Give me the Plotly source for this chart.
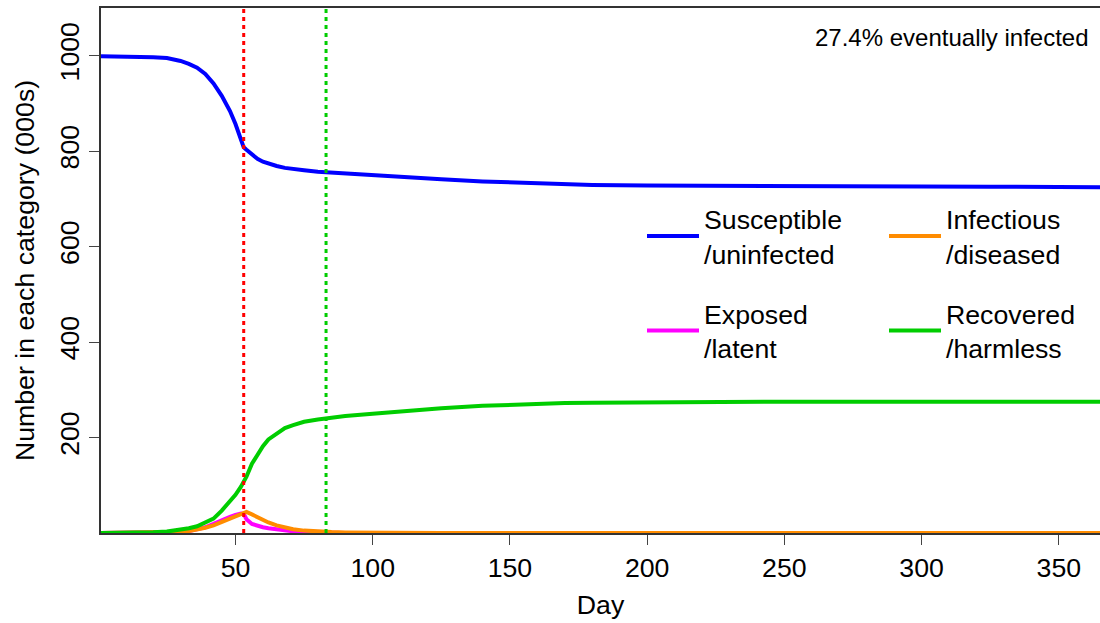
import plotly.graph_objects as go

# ---- data ----
days = [1, 10, 20, 25, 30, 33, 36, 39, 42, 45,
        48, 50, 52, 53, 54, 56, 58, 60, 62, 65,
        68, 71, 75, 80, 85, 90, 100, 110, 125, 140,
        150, 160, 170, 180, 200, 225, 250, 275, 300, 325,
        350, 365]

susceptible = [999, 999, 997, 995, 989, 983, 975, 962, 942, 916,
               884, 857, 826, 808, 803, 794, 784, 778, 774, 769,
               765, 762, 760, 757, 755, 753, 750, 746, 741, 736.5,
               734.2, 732.2, 730.5, 729.2, 728, 727, 726.5, 726, 726, 725.5,
               725, 724.5]

exposed = [0, 0.2, 0.5, 1, 2.5, 4, 7, 12, 19, 27,
           34, 38, 41, 40, 29, 19, 15, 12, 10, 7.5,
           5.5, 3.5, 1.5, 0.5, 0.2, 0, 0, 0, 0, 0,
           0, 0, 0, 0, 0, 0, 0, 0, 0, 0,
           0, 0]

infectious = [0, 0.2, 0.5, 1, 2.5, 4, 7, 11, 16, 23,
              31, 36, 40, 42, 44, 39, 33, 27, 22, 16,
              12, 8, 5, 3, 2, 1.3, 0.6, 0.3, 0.1, 0,
              0, 0, 0, 0, 0, 0, 0, 0, 0, 0,
              0, 0]

recovered = [0, 0.3, 1.5, 3, 6.5, 10, 14, 21, 30, 47,
             66, 80, 97, 107, 118, 145, 164, 182, 196, 208,
             220, 226, 233, 238, 242, 245, 250, 255, 261.5, 266.5,
             269, 271, 272.3, 273, 274, 274.5, 275, 275, 275, 275,
             275, 275]

marker_days = [53, 83]          # dotted vertical lines
marker_colors = ["#FF0000", "#00CD00"]

x_ticks = [50, 100, 150, 200, 250, 300, 350]
y_ticks = [200, 400, 600, 800, 1000]

note = "27.4% eventually infected"

FONT = "Liberation Sans, Arial, sans-serif"
BASE = 26.7

fig = go.Figure()

series = [
    ("Susceptible<br>/uninfected", susceptible, "#0000FF", "legend", "s"),
    ("Exposed<br>/latent", exposed, "#FF00FF", "legend", "e"),
    ("Infectious<br>/diseased", infectious, "#FF8C00", "legend2", "i"),
    ("Recovered<br>/harmless", recovered, "#00CD00", "legend2", "r"),
]
for name, vals, col, leg, grp in series:
    fig.add_trace(go.Scatter(
        x=days, y=vals, mode="lines", name=name,
        line=dict(color=col, width=4),
        legend=leg, legendgroup=grp, hoverinfo="skip",
    ))

for d, c in zip(marker_days, marker_colors):
    fig.add_shape(type="line", xref="x", yref="paper", x0=d, x1=d, y0=0, y1=1,
                  line=dict(color=c, width=3, dash="4px,4px"), layer="above")

fig.add_annotation(text=note, xref="paper", yref="paper", x=0.991, y=0.943,
                   xanchor="right", yanchor="middle", showarrow=False,
                   font=dict(family=FONT, size=24, color="black"))

legend_common = dict(
    bgcolor="rgba(0,0,0,0)", borderwidth=0,
    font=dict(family=FONT, size=BASE, color="black"),
    tracegroupgap=22, xanchor="left", yanchor="top", valign="middle",
    itemwidth=52,
)

fig.update_layout(
    width=1100, height=623,
    margin=dict(l=101, r=0, t=8, b=90),
    paper_bgcolor="white", plot_bgcolor="white",
    font=dict(family=FONT, size=BASE, color="black"),
    showlegend=True,
    legend=dict(x=(642 - 101) / 999, y=0.644, **legend_common),
    legend2=dict(x=(884 - 101) / 999, y=0.644, **legend_common),
    xaxis=dict(
        range=[1, 365], tickvals=x_ticks, ticktext=[str(v) for v in x_ticks],
        showgrid=False, zeroline=False, showline=True, mirror=True,
        linecolor="#333", linewidth=1.5,
        ticks="outside", ticklen=10, tickwidth=1, tickcolor="#444",
        tickfont=dict(family=FONT, size=BASE, color="black"),
        title=dict(text="Day", font=dict(family=FONT, size=BASE, color="black"), standoff=14),
    ),
    yaxis=dict(
        range=[0, 1100], tickvals=y_ticks, ticktext=[str(v) for v in y_ticks],
        tickangle=-90,
        showgrid=False, zeroline=False, showline=True, mirror=False,
        linecolor="#333", linewidth=1.5,
        ticks="outside", ticklen=10, tickwidth=1, tickcolor="#444",
        tickfont=dict(family=FONT, size=BASE, color="black"),
        title=dict(text="Number in each category (000s)",
                   font=dict(family=FONT, size=BASE, color="black"), standoff=12),
    ),
)

fig.write_html("out.html")
